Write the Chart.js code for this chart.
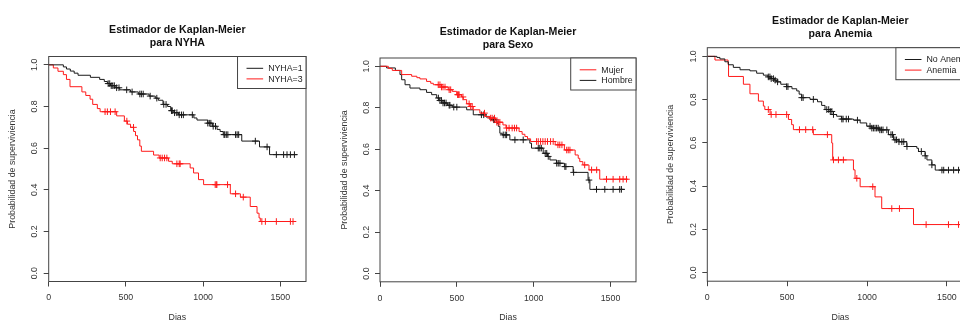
<!DOCTYPE html>
<html>
<head>
<meta charset="utf-8">
<script src="https://cdn.jsdelivr.net/npm/chart.js@4/dist/chart.umd.min.js"></script>
<style>
  html, body { margin: 0; padding: 0; background: #ffffff; }
  #wrap { position: relative; width: 960px; height: 322px; overflow: hidden; background: #fff; }
  canvas { position: absolute; top: 0; }
</style>
</head>
<body>
<div id="wrap">
  <canvas id="kmNyha" width="320" height="340" style="left:0px"></canvas>
  <canvas id="kmSexo" width="319" height="340" style="left:331px"></canvas>
  <canvas id="kmAnemia" width="330" height="340" style="left:659px"></canvas>
</div>
<script>
// ---- Axis ticks ----
const xTicks = [0, 500, 1000, 1500];
const yTicks = [0, 0.2, 0.4, 0.6, 0.8, 1.0];
const xMax = 1666;

// ---- NYHA ----
const nyha1Times = [95,115,140,165,190,270,330,360,380,400,430,460,530,580,650,690,710,740,770,790,810,840,940,960,1030,1060,1090,1110,1130,1250,1365,1430];
const nyha1Surv  = [0.99,0.98,0.97,0.96,0.95,0.94,0.93,0.92,0.91,0.90,0.89,0.88,0.87,0.86,0.85,0.84,0.83,0.81,0.80,0.78,0.77,0.76,0.745,0.735,0.72,0.705,0.69,0.68,0.665,0.634,0.606,0.569];
const nyha1End = 1608;
const nyha1Censor = [385,395,405,415,425,440,455,505,540,590,600,612,657,700,745,760,795,800,815,830,845,860,872,930,1030,1040,1050,1065,1080,1135,1140,1150,1160,1210,1220,1230,1338,1414,1474,1521,1543,1565,1591];

const nyha3Times = [30,60,95,115,138,215,240,268,285,315,333,440,490,510,530,550,562,575,590,600,679,715,776,800,916,938,970,1003,1176,1241,1305,1349,1362,1370];
const nyha3Surv  = [0.985,0.969,0.953,0.93,0.895,0.87,0.853,0.835,0.81,0.79,0.775,0.755,0.73,0.715,0.70,0.68,0.66,0.64,0.61,0.585,0.567,0.553,0.537,0.525,0.505,0.481,0.449,0.425,0.381,0.365,0.32,0.288,0.265,0.248];
const nyha3End = 1597;
const nyha3Censor = [365,380,400,430,506,549,722,735,750,765,830,845,851,1078,1085,1089,1158,1210,1260,1380,1403,1474,1565,1582];

// ---- Sexo ----
const mujerTimes = [54,80,141,206,240,260,303,330,347,400,444,470,499,531,542,564,585,607,650,683,715,755,800,820,905,925,943,960,980,1140,1200,1270,1290,1300,1320,1360,1430];
const mujerSurv  = [0.99,0.98,0.96,0.952,0.945,0.939,0.927,0.918,0.911,0.90,0.887,0.879,0.863,0.852,0.839,0.819,0.806,0.79,0.774,0.758,0.75,0.73,0.717,0.702,0.685,0.672,0.661,0.65,0.637,0.621,0.596,0.572,0.556,0.54,0.524,0.5,0.455];
const mujerEnd = 1615;
const mujerCensor = [379,390,400,410,423,450,460,505,510,515,540,580,590,600,680,720,730,745,760,770,780,824,840,860,875,889,1019,1030,1045,1060,1075,1090,1110,1127,1158,1170,1184,1215,1225,1236,1332,1377,1410,1474,1517,1560,1582,1604];

const hombreTimes = [43,100,130,141,163,195,260,303,336,369,385,410,440,470,564,607,690,715,760,770,780,795,845,975,986,1062,1090,1106,1149,1200,1257,1354,1366];
const hombreSurv  = [0.992,0.98,0.96,0.935,0.911,0.895,0.887,0.874,0.863,0.847,0.835,0.823,0.812,0.803,0.79,0.766,0.755,0.742,0.725,0.71,0.677,0.669,0.645,0.629,0.605,0.58,0.565,0.548,0.532,0.516,0.488,0.451,0.406];
const hombreEnd = 1593;
const hombreCensor = [380,390,400,410,420,430,450,455,480,500,660,675,740,745,802,815,824,878,932,1030,1040,1050,1075,1085,1095,1150,1160,1171,1203,1210,1260,1360,1409,1463,1517,1560,1571];

// ---- Anemia ----
const noAnemiaTimes = [60,79,110,132,163,205,267,309,351,380,400,420,434,460,497,530,560,575,591,643,690,716,737,770,790,810,840,915,957,998,1030,1080,1134,1166,1200,1249,1312,1322,1364,1375,1406,1427];
const noAnemiaSurv  = [0.995,0.988,0.975,0.961,0.949,0.938,0.933,0.922,0.913,0.905,0.897,0.89,0.882,0.871,0.86,0.85,0.84,0.825,0.809,0.801,0.79,0.773,0.754,0.745,0.731,0.723,0.71,0.705,0.692,0.677,0.668,0.66,0.638,0.614,0.605,0.583,0.575,0.56,0.54,0.521,0.498,0.474];
const noAnemiaEnd = 1605;
const noAnemiaCensor = [382,392,400,414,425,440,497,505,591,600,664,748,760,770,780,790,842,850,870,884,940,1019,1030,1040,1050,1060,1070,1080,1090,1100,1124,1150,1160,1175,1185,1200,1218,1230,1250,1340,1364,1406,1469,1480,1510,1542,1573,1590];

const anemiaTimes = [48,130,133,226,267,320,351,360,393,508,528,539,664,779,785,915,925,957,1050,1092,1291];
const anemiaSurv  = [0.983,0.964,0.907,0.871,0.827,0.793,0.77,0.754,0.731,0.708,0.684,0.661,0.638,0.599,0.521,0.475,0.436,0.397,0.35,0.296,0.222];
const anemiaEnd = 1600;
const anemiaCensor = [382,400,430,497,577,616,660,752,790,821,852,936,1036,1155,1203,1370,1510,1573];

// ---- Drawing ----
const FONT = '"Liberation Sans", Arial, Helvetica, sans-serif';
const CANVAS_H = 340;
const BLACK = '#1a1a1a';
const RED = '#ff1a1a';
Chart.defaults.font.family = FONT;

// survival value of a step curve at time t
function survAt(times, surv, t) {
  let s = 1;
  for (let i = 0; i < times.length; i++) {
    if (times[i] <= t) s = surv[i]; else break;
  }
  return s;
}

// rectangle around the plotting region
const framePlugin = {
  id: 'frame',
  afterDatasetsDraw(chart) {
    const { ctx, chartArea: a } = chart;
    ctx.save();
    ctx.strokeStyle = '#444';
    ctx.lineWidth = 1;
    ctx.strokeRect(a.left, a.top, a.right - a.left, a.bottom - a.top);
    ctx.restore();
  }
};

// boxed legend in the top-right corner of the plotting region
const boxLegendPlugin = {
  id: 'boxLegend',
  afterDraw(chart) {
    const { ctx, chartArea: a } = chart;
    const items = chart.data.datasets.filter(d => d.legendEntry);
    ctx.save();
    ctx.font = '8.8px ' + FONT;
    const textW = Math.max(...items.map(d => ctx.measureText(d.label).width));
    const w = 30.6 + textW + 3.4, h = 32;
    const x0 = a.right - w, y0 = a.top;
    ctx.fillStyle = '#fff';
    ctx.fillRect(x0, y0, w, h);
    ctx.strokeStyle = '#444';
    ctx.lineWidth = 1;
    ctx.strokeRect(x0, y0, w, h);
    items.forEach((d, i) => {
      const y = y0 + 11.8 + i * 10.6;
      ctx.strokeStyle = d.borderColor;
      ctx.beginPath();
      ctx.moveTo(x0 + 9, y);
      ctx.lineTo(x0 + 25.6, y);
      ctx.stroke();
      ctx.fillStyle = '#222';
      ctx.textBaseline = 'middle';
      ctx.textAlign = 'left';
      ctx.fillText(d.label, x0 + 30.6, y + 0.5);
    });
    ctx.restore();
  }
};

function makeChart(id, lay, titleLines, series) {
  const datasets = [];
  series.forEach(s => {
    const pts = [{ x: 0, y: 1 }];
    s.times.forEach((t, i) => pts.push({ x: t, y: s.surv[i] }));
    pts.push({ x: s.end, y: s.surv[s.surv.length - 1] });
    datasets.push({
      type: 'line', label: s.label, legendEntry: true, data: pts,
      stepped: true, borderColor: s.color, borderWidth: 1,
      pointRadius: 0, fill: false, tension: 0
    });
    datasets.push({
      type: 'scatter', label: s.label + ' (censura)',
      data: s.censor.map(t => ({ x: t, y: survAt(s.times, s.surv, t) })),
      pointStyle: 'cross', pointRadius: 3.3, pointHoverRadius: 3.3,
      borderColor: s.color, backgroundColor: s.color, pointBorderWidth: 1
    });
  });

  const titleTop = lay.titleRow - 6.625;
  return new Chart(document.getElementById(id), {
    type: 'line',
    data: { datasets },
    options: {
      responsive: false,
      animation: false,
      devicePixelRatio: 1,
      events: [],
      layout: { padding: { left: 0, top: 0, bottom: 0, right: lay.width - lay.right } },
      plugins: {
        legend: { display: false },
        tooltip: { enabled: false },
        title: {
          display: true, text: titleLines, fullSize: false, color: '#111',
          font: { size: 10.6, weight: 'bold', lineHeight: 1.25 },
          padding: { top: titleTop, bottom: lay.top - titleTop - 26.5 }
        }
      },
      scales: {
        x: {
          type: 'linear', min: 0, max: xMax,
          afterBuildTicks: sc => { sc.ticks = xTicks.map(v => ({ value: v })); },
          afterFit: sc => { sc.height = CANVAS_H - lay.bottom; },
          grid: { drawOnChartArea: false, drawTicks: true, tickLength: 5, color: '#444', lineWidth: 1 },
          border: { display: false },
          ticks: { color: '#333', font: { size: 8.8 }, padding: 6, maxRotation: 0, autoSkip: false,
                   callback: v => String(v) },
          title: { display: true, text: 'Dias', color: '#333', font: { size: 8.8 },
                   padding: { top: 0, bottom: 16.7 } }
        },
        y: {
          type: 'linear', min: -0.04, max: 1.04,
          afterBuildTicks: sc => { sc.ticks = yTicks.map(v => ({ value: v })); },
          afterFit: sc => { sc.width = lay.left; },
          grid: { drawOnChartArea: false, drawTicks: true, tickLength: 5, color: '#444', lineWidth: 1 },
          border: { display: false },
          ticks: { color: '#333', font: { size: 8.8 }, padding: 2.6, minRotation: 90, maxRotation: 90,
                   crossAlign: 'center', autoSkip: false, callback: v => v.toFixed(1) },
          title: { display: true, text: 'Probabilidad de superviviencia', color: '#333',
                   font: { size: 8.8 }, padding: { top: lay.yTitleX - 5.28, bottom: 0 } }
        }
      }
    },
    plugins: [framePlugin, boxLegendPlugin]
  });
}

makeChart('kmNyha',
  { width: 320, left: 48.7, right: 306, top: 56.5, bottom: 281.5, titleRow: 30, yTitleX: 13 },
  ['Estimador de Kaplan-Meier', 'para NYHA'],
  [
    { label: 'NYHA=1', color: BLACK, times: nyha1Times, surv: nyha1Surv, end: nyha1End, censor: nyha1Censor },
    { label: 'NYHA=3', color: RED, times: nyha3Times, surv: nyha3Surv, end: nyha3End, censor: nyha3Censor }
  ]);

makeChart('kmSexo',
  { width: 319, left: 49, right: 305, top: 58, bottom: 281.8, titleRow: 31.8, yTitleX: 14 },
  ['Estimador de Kaplan-Meier', 'para Sexo'],
  [
    { label: 'Mujer', color: RED, times: mujerTimes, surv: mujerSurv, end: mujerEnd, censor: mujerCensor },
    { label: 'Hombre', color: BLACK, times: hombreTimes, surv: hombreSurv, end: hombreEnd, censor: hombreCensor }
  ]);

makeChart('kmAnemia',
  { width: 330, left: 48.3, right: 314.4, top: 47.7, bottom: 281.2, titleRow: 20.8, yTitleX: 11.7 },
  ['Estimador de Kaplan-Meier', 'para Anemia'],
  [
    { label: 'No Anemia', color: BLACK, times: noAnemiaTimes, surv: noAnemiaSurv, end: noAnemiaEnd, censor: noAnemiaCensor },
    { label: 'Anemia', color: RED, times: anemiaTimes, surv: anemiaSurv, end: anemiaEnd, censor: anemiaCensor }
  ]);
</script>
</body>
</html>
